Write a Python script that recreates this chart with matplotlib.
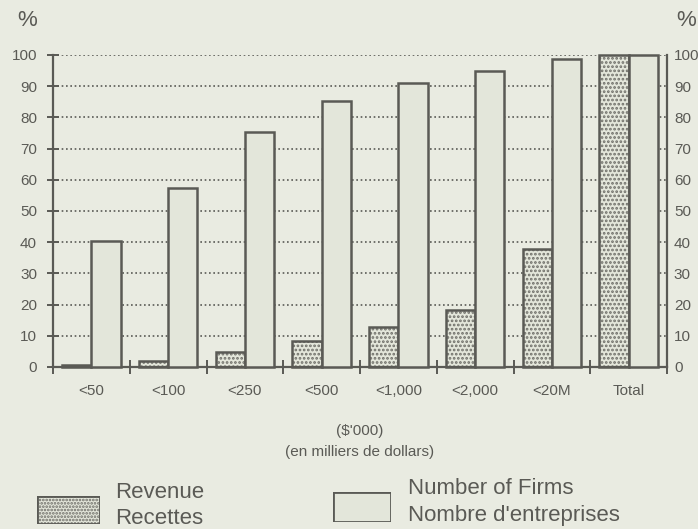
"""
Revenue vs number of firms by revenue size class, cumulative percentages.
"""
import matplotlib.pyplot as plt
import numpy as np

categories = ["<50", "<100", "<250", "<500", "<1,000", "<2,000", "<20M", "Total"]
revenue = [0.8, 1.8, 4.7, 8.4, 12.7, 18.2, 37.8, 100]
firms = [40.5, 57.5, 75.2, 85.2, 91.0, 94.8, 98.8, 100]
y_ticks = [0, 10, 20, 30, 40, 50, 60, 70, 80, 90, 100]

bg = "#e9ebe1"
ink = "#5a5a55"
bar_fill = "#e3e6da"
stipple = "#6e6e68"

plt.rcParams['font.family'] = ['Liberation Sans', 'DejaVu Sans']
plt.rcParams['hatch.linewidth'] = 1.3

fig = plt.figure(figsize=(6.98, 5.29), dpi=100, facecolor=bg)
ax = fig.add_axes([53 / 698, 1 - 367 / 529, 614 / 698, 312 / 529])
ax.set_facecolor(bg)

x = np.arange(len(categories))
w = 0.38

# dotted gridlines
for v in y_ticks[1:]:
    ax.axhline(v, color=ink, linestyle=(0, (1, 1.6)), linewidth=1.2, zorder=1)

# revenue bars: stippled fill, then outline
ax.bar(x - w / 2, revenue, width=w, color=bar_fill, edgecolor=stipple,
       hatch="....", linewidth=0, zorder=2)
ax.bar(x - w / 2, revenue, width=w, fill=False, edgecolor=ink,
       linewidth=1.8, zorder=3, clip_on=False)
# number of firms bars
ax.bar(x + w / 2, firms, width=w, color=bar_fill, edgecolor=ink,
       linewidth=1.8, zorder=3, clip_on=False)

ax.set_xlim(-0.5, len(categories) - 0.5)
ax.set_ylim(0, 100)

ax.spines["top"].set_visible(False)
for side in ["left", "right", "bottom"]:
    ax.spines[side].set_color(ink)
    ax.spines[side].set_linewidth(1.6)

ax.set_yticks(y_ticks)
ax.tick_params(axis="y", direction="inout", length=9, width=1.4,
               colors=ink, labelsize=11, left=True, right=True,
               labelleft=True, labelright=False, pad=7)
ax.set_xticks(x)
ax.set_xticklabels(categories)
ax.set_xticks(np.arange(len(categories) + 1) - 0.5, minor=True)
ax.tick_params(axis="x", which="major", length=0, colors=ink, labelsize=11, pad=12)
ax.tick_params(axis="x", which="minor", direction="inout", length=10, width=1.4,
               color=ink)

# right-hand scale
ax2 = ax.twinx()
ax2.set_ylim(0, 100)
ax2.set_yticks(y_ticks)
ax2.tick_params(axis="y", direction="inout", length=0, colors=ink,
                labelsize=11, pad=5)
for side in ["top", "left", "bottom", "right"]:
    ax2.spines[side].set_visible(False)

fig.text(27 / 698, 1 - 21 / 529, "%", ha="center", va="center", fontsize=16, color=ink)
fig.text(686 / 698, 1 - 21 / 529, "%", ha="center", va="center", fontsize=16, color=ink)
fig.text(360 / 698, 1 - 431 / 529, "($'000)", ha="center", va="center", fontsize=11, color=ink)
fig.text(360 / 698, 1 - 452 / 529, "(en milliers de dollars)", ha="center", va="center",
         fontsize=11, color=ink)

# legend drawn by hand
lg1 = fig.add_axes([37 / 698, 1 - 524 / 529, 63 / 698, 28 / 529])
lg1.bar([0], [1], width=1, color=bar_fill, edgecolor=stipple, hatch=".....", linewidth=0)
lg1.bar([0], [1], width=1, fill=False, edgecolor=ink, linewidth=2)
lg2 = fig.add_axes([333 / 698, 1 - 522 / 529, 58 / 698, 30 / 529])
lg2.bar([0], [1], width=1, color=bar_fill, edgecolor=ink, linewidth=2)
for a in (lg1, lg2):
    a.set_xlim(-0.5, 0.5)
    a.set_ylim(0, 1)
    a.axis("off")

fig.text(115 / 698, 1 - 492 / 529, "Revenue", ha="left", va="center", fontsize=16, color=ink)
fig.text(115 / 698, 1 - 519 / 529, "Recettes", ha="left", va="center", fontsize=16, color=ink)
fig.text(408 / 698, 1 - 489 / 529, "Number of Firms", ha="left", va="center", fontsize=16, color=ink)
fig.text(408 / 698, 1 - 515 / 529, "Nombre d'entreprises", ha="left", va="center", fontsize=16, color=ink)

fig.savefig("out.png", dpi=100, facecolor=bg)
